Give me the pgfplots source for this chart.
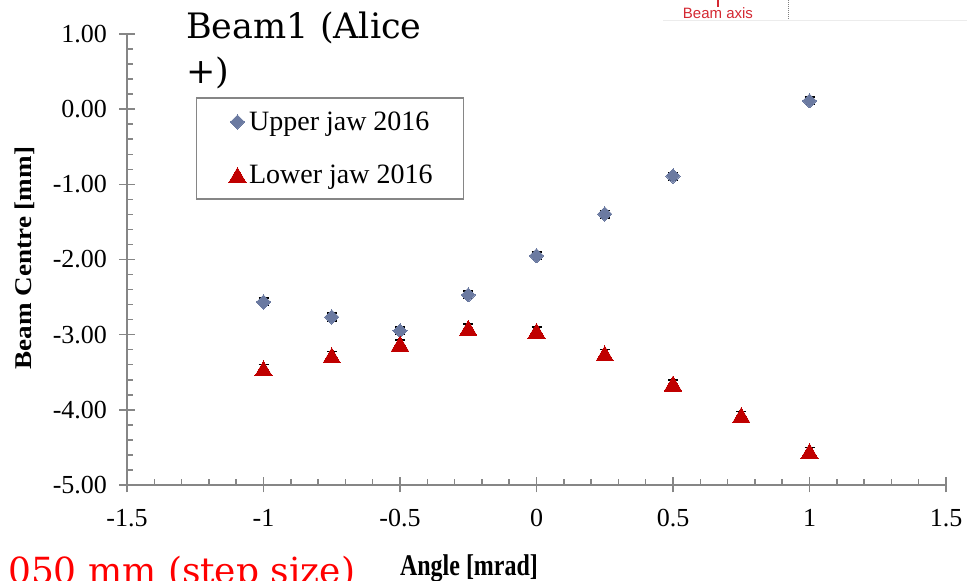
\documentclass[border=0pt]{standalone}
\usepackage{pgfplots}
\pgfplotsset{compat=1.18}
\usepackage{fontspec}
\setmainfont{Liberation Serif}
\newfontfamily\titlefont{DejaVu Serif}
\newfontfamily\labelsans{Liberation Sans}
\definecolor{upcol}{RGB}{107,122,161}
\definecolor{lowcol}{RGB}{192,0,0}
\definecolor{axgray}{RGB}{134,134,134}
\definecolor{annred}{RGB}{212,40,50}

\pgfplotstableread{
x y ey
-1 -2.565 0.05
-0.75 -2.765 0.05
-0.5 -2.95 0.05
-0.25 -2.47 0.05
0 -1.95 0.05
0.25 -1.395 0.05
0.5 -0.89 0.05
1 0.11 0.05
}\upperjaw

\pgfplotstableread{
x y ey
-1 -3.45 0.05
-0.75 -3.275 0.05
-0.5 -3.12 0.05
-0.25 -2.91 0.05
0 -2.95 0.05
0.25 -3.25 0.05
0.5 -3.65 0.05
0.75 -4.07 0.05
1 -4.55 0.05
}\lowerjaw

\begin{document}
\begin{tikzpicture}[x=1pt,y=1pt]
\useasboundingbox (0,0) rectangle (967,581);
\clip (0,0) rectangle (967,581);
\begin{axis}[
  at={(127pt,96pt)}, anchor=south west,
  scale only axis, width=819pt, height=451pt,
  xmin=-1.5, xmax=1.5, ymin=-5, ymax=1,
  axis lines*=left,
  axis line style={axgray, line width=1.5pt},
  xtick={-1.5,-1,-0.5,0,0.5,1,1.5},
  xticklabels={-1.5,-1,-0.5,0,0.5,1,1.5},
  ytick={-5,-4,-3,-2,-1,0,1},
  yticklabels={-5.00,-4.00,-3.00,-2.00,-1.00,0.00,1.00},
  minor x tick num=4, minor y tick num=4,
  tick align=center,
  major tick length=15pt, minor tick length=6pt,
  tick style={axgray, line width=1.5pt},
  every minor x tick/.append style={yshift=3pt},
  every minor y tick/.append style={xshift=3pt},
  ticklabel style={font=\fontsize{26}{30}\selectfont, black},
  xticklabel style={yshift=-13pt},
  yticklabel style={xshift=-9pt},
  xlabel={\scalebox{1}[1.25]{Angle [mrad]}},
  xlabel style={at={(axis description cs:0.4176,-0.185)}, anchor=center, font=\bfseries\fontsize{24}{28}\selectfont},
  ylabel={\scalebox{1.13}[1]{Beam Centre [mm]}},
  ylabel style={at={(axis description cs:-0.1245,0.503)}, anchor=center, rotate=0, font=\bfseries\fontsize{24}{28}\selectfont},
  legend style={at={(axis description cs:0.0842,0.860)}, anchor=north west,
    draw=axgray, line width=1.5pt, font=\fontsize{28}{30}\selectfont,
    inner xsep=28pt, inner ysep=12pt, row sep=29pt,
    nodes={inner xsep=3pt}},
  legend cell align=left,
  legend image code/.code={\path (-12pt,0pt); \draw[#1] plot coordinates {(0pt,0pt)};},
  clip=false,
]
\addplot[forget plot, draw=none, no marks,
  error bars/.cd, y dir=both, y explicit,
  error bar style={black, line width=1.5pt},
  error mark options={black, line width=1.5pt, mark size=5pt, rotate=90}]
  table[x=x, y=y, y error=ey] {\upperjaw};
\addplot[only marks, mark=square*, mark size=5pt,
  mark options={rotate=45, fill=upcol, draw=upcol, line width=0pt}]
  table[x=x, y=y] {\upperjaw};
\addlegendentry{Upper jaw 2016}
\addplot[forget plot, draw=none, no marks,
  error bars/.cd, y dir=both, y explicit,
  error bar style={black, line width=1.5pt},
  error mark options={black, line width=1.5pt, mark size=5pt, rotate=90}]
  table[x=x, y=y, y error=ey] {\lowerjaw};
\addplot[only marks, mark=triangle*, mark size=10pt,
  mark options={yshift=-2.5pt, fill=lowcol, draw=lowcol, line width=0pt}]
  table[x=x, y=y] {\lowerjaw};
\addlegendentry{Lower jaw 2016}
\end{axis}
\node[anchor=base west, inner sep=0pt, font=\titlefont\fontsize{35}{45}\selectfont] at (186,542.5) {Beam1 (Alice};
\node[anchor=base west, inner sep=0pt, font=\titlefont\fontsize{35}{45}\selectfont] at (186,497) {+)};
\node[anchor=base west, inner sep=0pt, text=red, font=\titlefont\fontsize{36}{45}\selectfont] at (8,-3) {050 mm (step size)};
\draw[gray!15, line width=1pt] (663,560) -- (967,560);
\draw[annred, line width=1.5pt] (718,581) -- (718,574);
\node[anchor=base, inner sep=0pt, text=annred, font=\labelsans\fontsize{15}{17}\selectfont] at (718,562) {Beam axis};
\draw[gray, densely dotted, line width=1pt] (788,581) -- (788,561);
\end{tikzpicture}
\end{document}
